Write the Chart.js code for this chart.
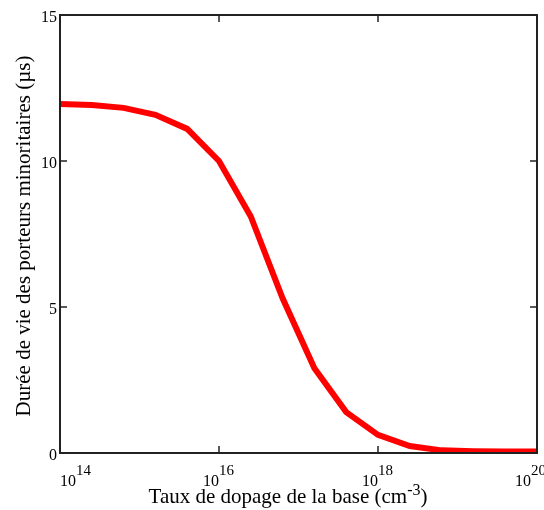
<!DOCTYPE html>
<html>
<head>
<meta charset="utf-8">
<script src="https://cdn.jsdelivr.net/npm/chart.js@4"></script>
<style>
  body { margin: 0; background: #fff; }
  #wrap { width: 544px; height: 510px; }
</style>
</head>
<body>
<div id="wrap"><canvas id="lifetimeChart" width="544" height="510"></canvas></div>
<script>
// exposant du dopage (log10 de N en cm-3) et durée de vie (µs)
const dopingExp = [14, 14.4, 14.8, 15.2, 15.6, 16, 16.4, 16.8, 17.2, 17.6, 18, 18.4, 18.8, 19.2, 19.6, 20];
const lifetime = [11.95, 11.92, 11.82, 11.58, 11.1, 10.0, 8.1, 5.3, 2.9, 1.4, 0.62, 0.24, 0.09, 0.06, 0.05, 0.05];

// graduations
const xTickExp = [14, 16, 18, 20];
const yTicks = [0, 5, 10, 15];

const serif = "'Liberation Serif', 'Times New Roman', serif";

// cadre, graduations intérieures et textes (avec exposants)
const framePlugin = {
    id: 'framePlugin',
    afterDraw(chart) {
        const ctx = chart.ctx;
        const area = chart.chartArea;
        const xs = chart.scales.x;
        const ys = chart.scales.y;
        ctx.save();

        // cadre
        ctx.strokeStyle = '#222';
        ctx.lineWidth = 2;
        ctx.strokeRect(area.left, area.top, area.right - area.left, area.bottom - area.top);

        // graduations vers l'intérieur
        ctx.lineWidth = 1.5;
        ctx.beginPath();
        yTicks.forEach(v => {
            const py = ys.getPixelForValue(v);
            ctx.moveTo(area.left, py); ctx.lineTo(area.left + 7, py);
            ctx.moveTo(area.right, py); ctx.lineTo(area.right - 7, py);
        });
        xTickExp.forEach(e => {
            const px = xs.getPixelForValue(Math.pow(10, e));
            ctx.moveTo(px, area.bottom); ctx.lineTo(px, area.bottom - 7);
            ctx.moveTo(px, area.top); ctx.lineTo(px, area.top + 7);
        });
        ctx.stroke();

        ctx.fillStyle = '#000';

        // étiquettes axe y
        ctx.font = '16px ' + serif;
        ctx.textAlign = 'right';
        ctx.textBaseline = 'middle';
        yTicks.forEach(v => {
            ctx.fillText(String(v), area.left - 3, ys.getPixelForValue(v) + 3);
        });

        // étiquettes axe x : 10^n
        ctx.textBaseline = 'alphabetic';
        xTickExp.forEach((e, i) => {
            const px = xs.getPixelForValue(Math.pow(10, e));
            ctx.font = '16px ' + serif;
            const w = ctx.measureText('10').width;
            let left;
            if (i === 0) left = px;
            else if (i === xTickExp.length - 1) left = px - 6 - w;
            else left = px - w;
            ctx.textAlign = 'left';
            ctx.fillText('10', left, 486);
            ctx.font = '15px ' + serif;
            ctx.fillText(String(e), left + w, 475);
        });

        // titre axe x
        const base = 'Taux de dopage de la base (cm';
        ctx.font = '21px ' + serif;
        const w1 = ctx.measureText(base).width;
        ctx.font = '16px ' + serif;
        const w2 = ctx.measureText('-3').width;
        ctx.font = '21px ' + serif;
        const w3 = ctx.measureText(')').width;
        let x0 = 288 - (w1 + w2 + w3) / 2;
        ctx.textAlign = 'left';
        ctx.fillText(base, x0, 503);
        ctx.font = '16px ' + serif;
        ctx.fillText('-3', x0 + w1, 495);
        ctx.font = '21px ' + serif;
        ctx.fillText(')', x0 + w1 + w2, 503);

        // titre axe y
        ctx.translate(30, 236);
        ctx.rotate(-Math.PI / 2);
        ctx.textAlign = 'center';
        ctx.font = '21px ' + serif;
        ctx.fillText('Durée de vie des porteurs minoritaires (µs)', 0, 0);

        ctx.restore();
    }
};

const points = dopingExp.map((e, i) => ({ x: Math.pow(10, e), y: lifetime[i] }));

new Chart(document.getElementById('lifetimeChart'), {
    type: 'line',
    data: {
        datasets: [{
            data: points,
            borderColor: '#ff0000',
            borderWidth: 6,
            pointRadius: 0,
            tension: 0,
            fill: false,
            clip: 0
        }]
    },
    options: {
        responsive: false,
        animation: false,
        layout: { padding: { left: 60, top: 15, right: 7, bottom: 57 } },
        plugins: {
            legend: { display: false },
            tooltip: { enabled: false }
        },
        scales: {
            x: { type: 'logarithmic', min: 1e14, max: 1e20, display: false },
            y: { type: 'linear', min: 0, max: 15, display: false }
        }
    },
    plugins: [framePlugin]
});
</script>
</body>
</html>
